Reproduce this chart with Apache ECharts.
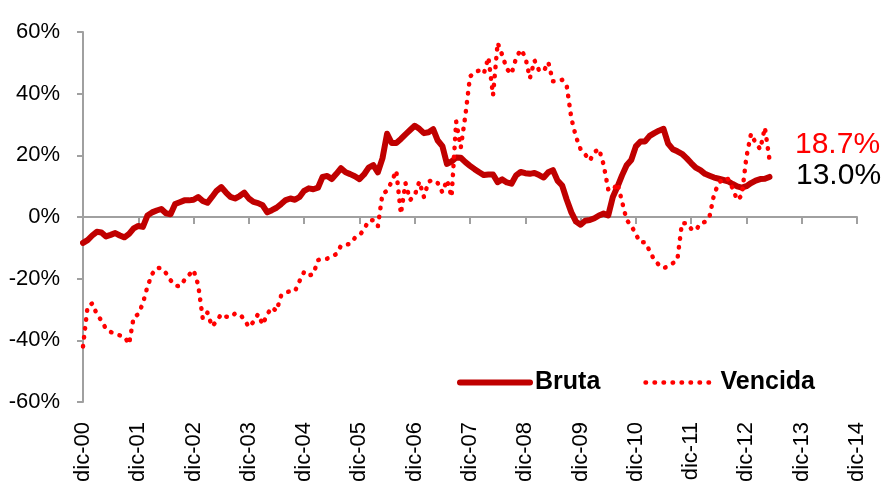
<!DOCTYPE html>
<html>
<head>
<meta charset="utf-8">
<script src="https://cdn.jsdelivr.net/npm/echarts@6/dist/echarts.min.js"></script>
<style>
  html, body { margin: 0; padding: 0; background: #fff; }
  #chart { width: 894px; height: 483px; }
</style>
</head>
<body>
<div id="chart"></div>
<script>
// monthly axis dic-00 .. dic-14, only Decembers get a label
const monthNames = ['ene', 'feb', 'mar', 'abr', 'may', 'jun', 'jul', 'ago', 'sep', 'oct', 'nov', 'dic']
const months = ['dic-00']
for (let y = 1; y <= 14; y++) {
  for (let m = 0; m < 12; m++) {
    months.push(monthNames[m] + '-' + String(y).padStart(2, '0'))
  }
}

// tasa de variación interanual (%), dic-00 .. may-13
const bruta = [
  -8.4, -7.5, -6.0, -4.8, -5.0, -6.3, -5.8, -5.2, -6.0, -6.6,
  -5.5, -3.7, -2.9, -3.2, 0.5, 1.5, 2.1, 2.6, 1.2, 0.9,
  4.2, 4.8, 5.4, 5.4, 5.6, 6.5, 5.2, 4.6, 6.5, 8.5,
  9.7, 8.0, 6.5, 6.0, 6.8, 7.9, 6.0, 4.9, 4.5, 3.8,
  1.5, 2.2, 3.0, 4.2, 5.5, 6.0, 5.6, 6.5, 8.5, 9.3,
  9.0, 9.5, 13.0, 13.3, 12.3, 14.0, 15.8, 14.5, 13.9, 13.2,
  12.3, 13.8, 16.0, 16.8, 14.5, 19.0, 27.0, 24.0, 24.0, 25.3,
  26.8, 28.2, 29.6, 28.6, 27.2, 27.5, 28.5, 24.8, 23.0, 17.2,
  18.0, 19.3, 19.2, 17.8, 16.6, 15.5, 14.5, 13.6, 13.8, 13.8,
  11.3, 12.2, 11.2, 10.8, 13.5, 14.6, 14.2, 14.0, 14.3, 13.6,
  12.8, 14.5, 15.2, 11.8, 10.2, 5.6, 1.5, -1.5, -2.5, -1.2,
  -1.0, -0.4, 0.5, 1.1, 0.5, 6.5, 9.8, 13.5, 16.8, 18.5,
  22.9, 24.5, 24.5, 26.3, 27.2, 28.0, 28.6, 23.8, 22.0, 21.3,
  20.5, 19.1, 17.5, 16.0, 15.2, 14.0, 13.4, 12.8, 12.4, 12.0,
  11.6, 10.7, 9.9, 9.5, 10.0, 11.0, 11.8, 12.3, 12.4, 13.0
]

const vencida = [
  -42, -29, -28, -31.5, -33.6, -36.3, -37.3, -37.8, -38.4, -38.8,
  -41.2, -32.5, -31.5, -28, -22.5, -18.5, -16.5, -16.6, -18.2, -20.5,
  -22.2, -22.5, -20.5, -18.8, -17.2, -22, -33, -31, -35.5, -33.8,
  -31.5, -32.3, -32.5, -31.3, -31.5, -33.2, -35.7, -34, -31.5, -34.9,
  -31.5, -29.3, -30.5, -25.5, -24.4, -24.1, -24.1, -20.8, -17.8, -19,
  -18.5, -14, -13.5, -13.5, -12.8, -12, -9.3, -9, -8.7, -6.8,
  -6, -4, -1.2, -1, -3, 7.5, 8.5, 11.5, 15, 1,
  11, 5.5, 7, 11.5, 6.5, 11.5, 12, 11, 8, 12,
  6.5, 31, 22.5, 33, 45.5, 47, 47.5, 46.5, 51.8, 39.5,
  56.5, 52.5, 48, 46.4, 51.5, 54.3, 52, 45, 50.8, 47.5,
  47.3, 50.2, 44, 44, 44.5, 42.5, 32, 26, 22, 20.3,
  18.3, 21, 22.1, 17, 9, 8.6, 11, 5, -1, -2.7,
  -5.7, -8.2, -8.2, -11, -14, -15.5, -16.6, -16, -15, -14,
  -2, -2, -3.8, -4.4, -2, -1.6, 0.2, 7.5, 11, 12.6,
  12.3, 9.3, 5.5, 7, 19.5, 27, 24, 22, 29, 18.7
]

const lastBruta = '13.0%'
const lastVencida = '18.7%'

const font = "'Liberation Sans', Arial, sans-serif"

const chart = echarts.init(document.getElementById('chart'))
chart.setOption({
  animation: false,
  textStyle: { fontFamily: font },
  grid: { left: 83, right: 37, top: 32, bottom: 81, containLabel: false, outerBoundsMode: 'none' },
  legend: {
    left: 452,
    top: 365,
    itemWidth: 70,
    itemHeight: 8,
    itemGap: 43,
    itemStyle: { opacity: 0 },
    textStyle: { fontSize: 25, fontWeight: 'bold', color: '#000', fontFamily: font },
    data: [
      { name: 'Bruta', lineStyle: { width: 6 } },
      { name: 'Vencida', lineStyle: { width: 4.5 } }
    ]
  },
  xAxis: {
    type: 'category',
    data: months,
    boundaryGap: false,
    axisLine: { onZero: true, lineStyle: { color: '#a0a0a0', width: 2 } },
    axisTick: { interval: 11, length: 7, lineStyle: { color: '#a0a0a0', width: 2 } },
    axisLabel: {
      interval: 11,
      rotate: 90,
      margin: 20,
      fontSize: 22,
      color: '#000',
      fontFamily: font
    },
    splitLine: { show: false }
  },
  yAxis: {
    type: 'value',
    min: -60,
    max: 60,
    interval: 20,
    axisLine: { show: true, lineStyle: { color: '#a0a0a0', width: 2 } },
    axisTick: { show: true, length: 6, lineStyle: { color: '#a0a0a0', width: 2 } },
    axisLabel: { formatter: '{value}%', fontSize: 22, color: '#000', margin: 23, fontFamily: font },
    splitLine: { show: false }
  },
  series: [
    {
      name: 'Bruta',
      type: 'line',
      data: bruta,
      symbol: 'none',
      itemStyle: { color: '#c00000' },
      lineStyle: { color: '#c00000', width: 6, join: 'round', cap: 'round' }
    },
    {
      name: 'Vencida',
      type: 'line',
      data: vencida,
      symbol: 'none',
      itemStyle: { color: '#ff0000' },
      lineStyle: { color: '#ff0000', width: 4.5, type: [0.5, 8.5], cap: 'round', join: 'round' }
    }
  ],
  graphic: [
    {
      type: 'text',
      left: 795,
      top: 130,
      style: { text: lastVencida, fill: '#ff0000', font: '30px ' + font }
    },
    {
      type: 'text',
      left: 796,
      top: 161,
      style: { text: lastBruta, fill: '#000', font: '30px ' + font }
    }
  ]
})
</script>
</body>
</html>
